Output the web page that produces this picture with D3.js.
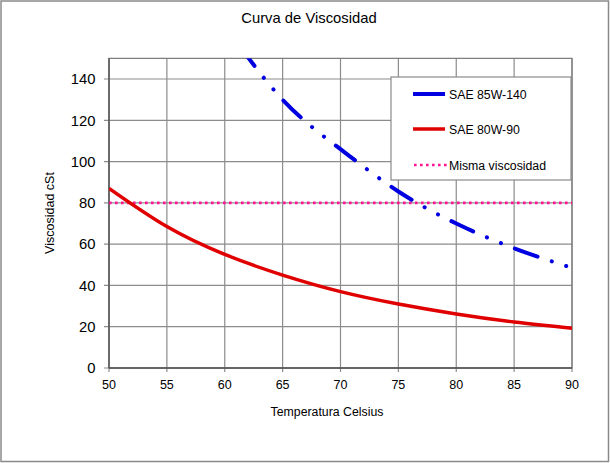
<!DOCTYPE html>
<html><head><meta charset="utf-8">
<script src="https://cdn.jsdelivr.net/npm/d3@7"></script>
<style>body{margin:0;background:#fff}svg{display:block;font-family:"Liberation Sans",Arial,sans-serif}</style>
</head><body>
<svg id="c" width="610" height="463"></svg>
<script>
const title = "Curva de Viscosidad";
const xTitle = "Temperatura Celsius";
const yTitle = "Viscosidad cSt";
const xTicks = [50,55,60,65,70,75,80,85,90];
const yTicks = [0,20,40,60,80,100,120,140];
const tempsA = [60,65,70,75,80,85,90];
const sae85W140 = [166,130,106,85.5,70,58,48.5];
const tempsB = [50,55,60,65,70,75,80,85,90];
const sae80W90 = [87,68.5,55,45,37,31,26.2,22.3,19.3];
const sameVisc = [[50,80],[90,80]];
const seriesNames = ["SAE 85W-140","SAE 80W-90","Misma viscosidad"];

const svg = d3.select("#c");
const L=109,R=572,B=368;
const x = d3.scaleLinear().domain([50,90]).range([L,R]);
const y = d3.scaleLinear().domain([0,140]).range([B,79]);
const T = y(150);

svg.append("rect").attr("x",1).attr("y",1).attr("width",607.5).attr("height",460.5)
  .attr("fill","#fff").attr("stroke","#8a8a8a").attr("stroke-width",1.5);

svg.append("defs").append("clipPath").attr("id","clip").append("rect")
  .attr("x",L).attr("y",T).attr("width",R-L).attr("height",B-T);

// grid
const g = svg.append("g");
g.selectAll(".gx").data(xTicks).join("line").attr("x1",d=>x(d)).attr("x2",d=>x(d))
  .attr("y1",T).attr("y2",B+4).attr("stroke","#8c8c8c").attr("stroke-width",1.2);
g.selectAll(".gy").data(yTicks).join("line").attr("x1",L-5).attr("x2",R)
  .attr("y1",d=>y(d)).attr("y2",d=>y(d)).attr("stroke","#8c8c8c").attr("stroke-width",1.2);
g.append("rect").attr("x",L).attr("y",T).attr("width",R-L).attr("height",B-T)
  .attr("fill","none").attr("stroke","#7a7a7a").attr("stroke-width",1.2);
g.append("line").attr("x1",L).attr("x2",R).attr("y1",B).attr("y2",B).attr("stroke","#555").attr("stroke-width",1.3);
g.append("line").attr("x1",L).attr("x2",L).attr("y1",T).attr("y2",B).attr("stroke","#555").attr("stroke-width",1.3);

// tick labels
svg.selectAll(".xl").data(xTicks).join("text").attr("x",d=>x(d)).attr("y",389)
  .attr("text-anchor","middle").attr("font-size",12.5).attr("fill","#000").text(d=>d);
svg.selectAll(".yl").data(yTicks).join("text").attr("x",95.5).attr("y",d=>y(d)+5.3)
  .attr("text-anchor","end").attr("font-size",14.8).attr("fill","#000").text(d=>d);

svg.append("text").attr("x",309).attr("y",22.5).attr("text-anchor","middle").attr("font-size",14.8).text(title);
svg.append("text").attr("x",327).attr("y",416).attr("text-anchor","middle").attr("font-size",12.3).text(xTitle);
svg.append("text").attr("transform","translate(54,213) rotate(-90)").attr("text-anchor","middle").attr("font-size",12.5).text(yTitle);

const line = d3.line().x(d=>x(d[0])).y(d=>y(d[1])).curve(d3.curveNatural);
const plot = svg.append("g").attr("clip-path","url(#clip)");
plot.append("path").datum(sameVisc).attr("d",line).attr("fill","none")
  .attr("stroke","#ff1493").attr("stroke-width",2.6).attr("stroke-dasharray","2.6,3.4");
plot.append("path").datum(tempsB.map((t,i)=>[t,sae80W90[i]])).attr("d",line).attr("fill","none")
  .attr("stroke","#e00000").attr("stroke-width",3.5);
plot.append("path").datum(tempsA.map((t,i)=>[t,sae85W140[i]])).attr("d",line).attr("fill","none")
  .attr("stroke","#0000e0").attr("stroke-width",4).attr("stroke-linecap","round")
  .attr("stroke-dasharray","24,15,0.1,15,0.1,15").attr("stroke-dashoffset",43);

// legend
const lg = svg.append("g");
lg.append("rect").attr("x",391).attr("y",77).attr("width",180).attr("height",103)
  .attr("fill","#fff").attr("stroke","#8a8a8a").attr("stroke-width",1.2);
const rows=[94,129,165];
const styles=[
  {c:"#0000e0",w:4,d:null},
  {c:"#e00000",w:3.5,d:null},
  {c:"#ff1493",w:2.6,d:"2.6,3.4"}];
seriesNames.forEach((n,i)=>{
  const l=lg.append("line").attr("x1",413).attr("x2",445).attr("y1",rows[i]).attr("y2",rows[i])
    .attr("stroke",styles[i].c).attr("stroke-width",styles[i].w);
  if(styles[i].d) l.attr("stroke-dasharray",styles[i].d).attr("x1",414).attr("x2",448);
  lg.append("text").attr("x",449).attr("y",rows[i]+4.5).attr("font-size",12.3).text(n);
});
</script>
</body></html>
